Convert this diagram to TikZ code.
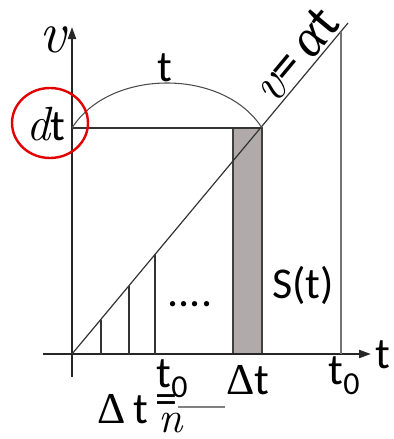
\documentclass[tikz,border=0pt]{standalone}
\usepackage{fontspec}
\setmainfont{Carlito}
\newfontfamily\lmr{Latin Modern Roman}
\newfontfamily\lsf{Liberation Serif}
\usetikzlibrary{arrows.meta}
\definecolor{barfill}{RGB}{176,170,170}
\definecolor{circred}{RGB}{226,0,0}
\newcommand{\vv}{{\lmr\itshape v}}
\newcommand{\sub}[1]{\raisebox{-0.22em}{\fontsize{24}{26}\selectfont #1}}
\begin{document}
\begin{tikzpicture}[x=0.75pt,y=-0.75pt,
  axis/.style={line width=1.6pt,black!85,-{Triangle[length=9pt,width=6pt]}},
  thin line/.style={line width=0.9pt,black!80},
  lbl/.style={inner sep=0pt,font=\fontsize{33}{36}\selectfont},
]
\useasboundingbox (0,0) rectangle (393,439);
% key points
\coordinate (O) at (72,354);
\coordinate (P) at (262,128);
\coordinate (E) at (348,23);
\coordinate (Y) at (72,128);
% gray strip
\path[fill=barfill,draw=black!75,line width=1.5pt] (233,128) rectangle (262,354);
% axes
\draw[axis] (72,377) -- (72,27);
\draw[axis] (43,354) -- (371,354);
% diagonal
\draw[thin line] (O) -- (E);
% horizontal
\draw[thin line] (Y) -- (P);
% arc
\draw[line width=0.8pt,black!70] (Y) .. controls (110,68) and (224,68) .. (P);
% verticals under diagonal
\coordinate (a1) at (101,354); \coordinate (b1) at (101,319.5);
\coordinate (a2) at (129,354); \coordinate (b2) at (129,286.2);
\coordinate (a3) at (155,354); \coordinate (b3) at (155,255.2);
\draw[thin line] (a1) -- (b1) (a2) -- (b2) (a3) -- (b3);
% right vertical
\coordinate (r1) at (341,31.5); \coordinate (r2) at (341,354);
\draw[line width=1.5pt,black!55] (r1) -- (r2);
% labels
\node[lbl] (v) at (53,40) {\fontsize{44}{46}\selectfont\vv};
\node[lbl] (tx) at (383,355) {t};
\node[lbl] (tarc) at (165,68) {t};
\node[lbl] (dt) at (46,124) {{\fontsize{36}{38}\selectfont\lmr\itshape d}t};
\draw[circred,line width=1.8pt] (50,123) ellipse [x radius=38, y radius=35];
\node[lbl,rotate=50.2] (veq) at (295,55) {\fontsize{40}{42}\selectfont\vv=\,{\lsf\itshape α}t};
\node[lbl] (St) at (303,285) {S(t)};
\node[lbl] (dots) at (190,304) {....};
\node[lbl] (t0a) at (172,379) {t\sub{0}};
\node[lbl] (dtb) at (248,380) {{\lsf Δ}t};
\node[lbl] (t0b) at (344,376) {t\sub{0}};
\node[lbl] (Dt) at (123,409) {{\lsf Δ}\,t};
\node[lbl] (eq) at (166,404) {=};
\coordinate (f1) at (178,407); \coordinate (f2) at (225,407);
\draw[line width=1.4pt,black!50] (f1) -- (f2);
\node[lbl] (n) at (171,423) {{\lmr\itshape n}};
\end{tikzpicture}
\end{document}
